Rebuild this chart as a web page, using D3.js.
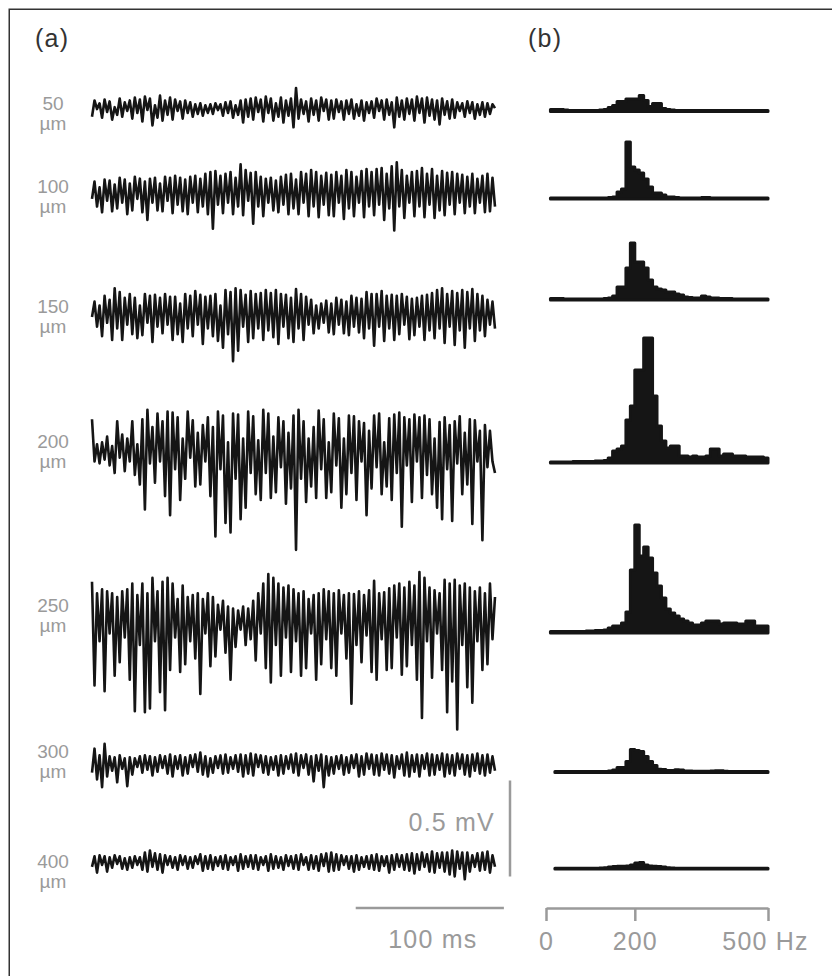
<!DOCTYPE html>
<html>
<head>
<meta charset="utf-8">
<script src="https://cdnjs.cloudflare.com/ajax/libs/d3/7.8.5/d3.min.js"></script>
<style>
	body { margin: 0; background: #fff; }
	text { font-family: "Liberation Sans", Arial, sans-serif; }
</style>
</head>
<body>
<svg id="chart"></svg>
<script>
// recording depths (um)
var depths = ["50", "100", "150", "200", "250", "300", "400"]

// LFP traces, uV, successive extrema, ~272 ms long
var trace50 = [-30, 55, 10, 40, -35, 60, -5, 50, -45, 20, -20, 65, -30, 45, 0, 55,
	-40, 70, -10, 60, -55, 75, 5, 65, -75, 30, -35, 80, -50, 55, -20, 70,
	-45, 60, 0, 50, -40, 55, -10, 45, -30, 35, -15, 40, -25, 30, -10, 35,
	-15, 40, 5, 35, -25, 45, -10, 50, -35, 30, -20, 55, -60, 60, -30, 65,
	-45, 70, -5, 60, -55, 75, -10, 65, -50, 40, -30, 70, -60, 55, -25, 65,
	-85, 120, -40, 60, -15, 50, -55, 65, -20, 55, -50, 70, 0, 60, -45, 55,
	-40, 60, -5, 50, -45, 55, -15, 60, -40, 35, -25, 55, -50, 45, -10, 50,
	-35, 65, 0, 55, -45, 60, -20, 45, -85, 70, -30, 55, -45, 65, -15, 60,
	-50, 75, -10, 65, -60, 70, -25, 60, -45, 55, -70, 65, -20, 50, -40, 60,
	-35, 45, 0, 40, -30, 50, -10, 45, -40, 35, -20, 45, -30, 40, -15, 35, 15]

var trace100 = [-20, 70, -60, 40, -90, 80, -30, 75, -85, 55, -70, 90, -40, 80, -100, 60,
	-80, 95, -20, 85, -90, 70, -130, 85, -40, 90, -80, 60, -85, 95, -30, 90,
	-95, 100, -50, 90, -85, 80, -100, 95, -40, 100, -90, 85, -60, 110, -100, 120,
	-175, 125, -50, 100, -95, 110, -40, 120, -100, 90, -60, 160, -105, 130, -30, 115,
	-150, 120, -60, 95, -110, 85, -40, 90, -80, 75, -90, 95, -50, 105, -100, 110,
	-70, 80, -100, 120, -40, 110, -110, 130, -60, 120, -115, 100, -50, 115, -105, 105,
	-110, 120, -40, 100, -125, 130, -70, 120, -110, 95, -40, 125, -115, 135, -60, 120,
	-105, 135, -50, 140, -130, 110, -70, 150, -185, 170, -60, 130, -120, 100, -40, 120,
	-110, 125, -60, 140, -115, 110, -50, 135, -120, 100, -80, 125, -105, 115, -50, 120,
	-100, 110, -40, 105, -95, 95, -60, 110, -95, 85, -40, 100, -90, 110, -85, 90, -60]

var trace150 = [0, 80, -50, 60, -100, 110, -30, 90, -120, 150, -60, 130, -120, 100, -40, 120,
	-90, 100, -110, 60, -95, 120, -30, 110, -130, 115, -50, 100, -85, 120, -40, 105,
	-120, 105, -90, 70, -130, 120, -60, 110, -100, 135, -40, 115, -140, 105, -60, 110,
	-100, 120, -125, 60, -160, 140, -90, 130, -230, 150, -175, 140, -50, 115, -130, 135,
	-110, 120, -60, 125, -120, 140, -70, 125, -105, 140, -140, 120, -50, 115, -110, 100,
	-130, 145, -60, 120, -120, 105, -40, 90, -85, 60, -60, 70, -30, 85, -80, 70,
	-90, 100, -40, 90, -85, 80, -95, 110, -50, 100, -80, 95, -110, 130, -60, 120,
	-150, 120, -50, 135, -125, 110, -60, 115, -120, 110, -90, 120, -40, 105, -115, 95,
	-95, 100, -50, 110, -120, 115, -70, 125, -110, 140, -60, 150, -135, 120, -50, 135,
	-145, 125, -70, 140, -160, 130, -60, 145, -125, 120, -70, 110, -100, 90, -40, 80, -60]

var trace200 = [160, -60, 30, -70, 40, -50, 70, -80, 20, -120, 150, -40, 80, -110, 60, -60,
	150, -130, 30, -180, 160, -310, 210, -70, 120, -170, 190, -60, 150, -240, 200, -340,
	195, -100, 170, -260, 60, -150, 200, -40, 155, -190, 90, -180, 130, -60, 170, -240,
	120, -450, 200, -100, 180, -380, 40, -430, 190, -150, 185, -360, 60, -300, 200, -120,
	175, -230, 50, -260, 210, -120, 190, -250, 70, -220, 170, -90, 150, -280, 90, -200,
	180, -520, 210, -150, 150, -270, 60, -190, 120, -250, 205, -100, 160, -250, 40, -220,
	190, -80, 165, -300, 60, -230, 180, -120, 175, -260, 150, -60, 140, -340, 100, -200,
	180, -90, 190, -230, 40, -190, 165, -260, 185, -120, 195, -400, 170, -80, 160, -270,
	185, -60, 170, -250, 180, -130, 160, -230, 60, -300, 145, -360, 170, -100, 130, -370,
	150, -70, 175, -230, 90, -180, 160, -385, 155, -60, 100, -470, 130, -90, 100, -60, -120]

var trace250 = [210, -330, 150, -100, 170, -360, 160, -60, 150, -280, 130, -210, 160, -80, 170, -300,
	200, -465, 140, -120, 200, -470, 150, -450, 230, -100, 160, -365, 210, -460, 230, -250,
	200, -80, 120, -260, 190, -220, 130, -100, 140, -190, 150, -375, 120, -60, 150, -230,
	130, -180, 90, -40, 110, -160, 80, -300, 70, -130, 60, -40, 80, -120, 70, -90,
	110, -200, 150, -60, 200, -240, 250, -315, 230, -120, 200, -280, 180, -80, 190, -260,
	170, -100, 150, -280, 160, -240, 120, -60, 140, -300, 150, -220, 170, -90, 160, -240,
	150, -280, 165, -60, 140, -190, 150, -425, 145, -120, 160, -210, 140, -70, 165, -260,
	215, -300, 150, -90, 155, -250, 175, -240, 190, -80, 200, -275, 180, -230, 210, -120,
	190, -300, 260, -500, 230, -100, 180, -290, 165, -60, 150, -250, 220, -470, 200, -310,
	220, -560, 190, -120, 200, -340, 180, -420, 160, -100, 180, -250, 150, -220, 200, -90, 130]

var trace300 = [-40, 85, -75, 50, -115, 110, -60, 45, -30, 40, -90, 50, -20, 35, -110, 40,
	-50, 35, -10, 45, -40, 50, -25, 45, -55, 40, -35, 50, -15, 45, -45, 55,
	-60, 45, -20, 50, -55, 40, -45, 50, -10, 55, -35, 65, -50, 45, -60, 35,
	-40, 45, -15, 50, -45, 55, -40, 40, -20, 50, -35, 55, -60, 50, -45, 60,
	-55, 55, -10, 50, -40, 45, -50, 40, -25, 45, -55, 50, -45, 45, -20, 55,
	-40, 60, -55, 50, -15, 55, -50, 45, -85, 50, -30, 55, -115, 45, -55, 40,
	-45, 45, -20, 50, -50, 40, -40, 50, -15, 55, -60, 45, -50, 60, -20, 55,
	-50, 50, -55, 60, -25, 55, -45, 50, -65, 45, -20, 55, -55, 65, -60, 50,
	-35, 55, -60, 50, -20, 60, -55, 55, -50, 50, -25, 60, -60, 55, -45, 50,
	-55, 60, -20, 55, -50, 50, -60, 55, -30, 60, -45, 50, -55, 55, -40, 45, -30]

var trace400 = [-20, 35, -50, 40, -10, 35, -45, 30, -25, 40, -5, 35, -30, 25, -35, 30,
	-25, 35, -10, 30, -35, 55, -45, 65, -20, 50, -35, 45, -50, 40, -10, 35,
	-25, 30, -35, 40, -10, 35, -30, 30, -25, 35, -5, 45, -40, 35, -30, 40,
	-35, 30, -15, 35, -30, 40, -35, 30, -10, 35, -40, 45, -30, 35, -20, 40,
	-30, 40, -35, 30, -10, 35, -40, 45, -30, 35, -25, 30, -35, 40, -15, 35,
	-30, 40, -35, 45, -10, 30, -35, 40, -30, 35, -40, 45, -15, 50, -45, 55,
	-40, 45, -35, 40, -10, 35, -30, 35, -45, 40, -35, 30, -20, 35, -30, 40,
	-35, 45, -40, 35, -15, 35, -50, 40, -35, 45, -20, 40, -35, 45, -40, 50,
	-55, 45, -35, 55, -20, 45, -45, 60, -50, 50, -25, 55, -45, 55, -60, 65,
	-70, 60, -30, 55, -85, 55, -45, 40, -20, 50, -40, 55, -35, 60, -50, 40, -20]

// power spectra, panel (b): edges of 10 Hz bins (Hz) and power per bin (a.u.)
var freqEdges = [10, 20, 30, 40, 50, 60, 70, 80, 90, 100,
	110, 120, 130, 140, 150, 160, 170, 180, 190, 200,
	210, 220, 230, 240, 250, 260, 270, 280, 290, 300,
	310, 320, 330, 340, 350, 360, 370, 380, 390, 400,
	410, 420, 430, 440, 450, 460, 470, 480, 490, 500]

var spec50 = [2, 2, 2, 1.5, 1, 1, 1, 1, 1, 1,
	1, 1.5, 2, 4, 6, 10, 10, 12.5, 12.5, 12.5,
	16, 11, 5, 8, 8, 3, 2, 1.5, 1, 1,
	1, 1, 1, 1, 1, 1, 1, 1, 1, 1,
	1, 1, 1, 1, 1, 1, 1, 1, 1]
var spec100 = [1, 1, 1, 1, 1, 1, 1, 1, 1, 1,
	1, 1, 1, 1.5, 2, 7, 10, 57, 32, 29,
	26, 20, 12, 6, 6, 4, 2, 2, 1.5, 1,
	1, 1, 1, 1, 1.5, 1.5, 1, 1, 1, 1,
	1, 1, 1, 1, 1, 1, 1, 1, 1]
var spec150 = [1.5, 1.5, 1.5, 1, 1, 1, 1, 1, 1, 1,
	1, 1, 1.5, 2, 4, 13, 13, 32, 57, 38,
	38, 32, 20, 13, 11, 10, 8, 8, 6, 5,
	3, 2.5, 2, 2, 4, 3, 2, 2, 1.5, 1.5,
	1.5, 1, 1, 1, 1, 1, 1, 1, 1]
var spec200 = [1, 1, 1, 1, 1, 1.5, 1.5, 1.5, 1.5, 1.5,
	2, 2, 2.5, 5, 12, 14, 17, 43, 57, 93,
	93, 125, 125, 67, 37, 22, 15, 17, 17, 7,
	7, 6, 7, 6, 6, 7, 14, 14, 7, 9,
	9, 7, 7, 7, 6, 6, 6, 6, 5]
var spec250 = [1.5, 1.5, 1.5, 1.5, 1.5, 1.5, 1.5, 1.5, 2, 2,
	2.5, 2.5, 3, 5, 7, 7, 10, 21, 63, 108,
	77, 86, 75, 60, 47, 35, 24, 20, 17, 14,
	12, 10, 8, 8, 10, 12, 12, 12, 9, 10,
	10, 10, 9, 9, 12, 12, 7, 7, 7]
var spec300 = [null, 1, 1, 1, 1, 1, 1, 1, 1, 1,
	1, 1, 1, 1.5, 2.5, 5, 5, 11, 23, 22,
	21, 16, 11, 7, 3.3, 3, 2, 2, 2.7, 2.5,
	1.5, 1.5, 1.2, 1.2, 1.2, 1.2, 1.5, 1.7, 1.7, 1.2,
	1, 1, 1, 1, 1, 1, 1, 1, 1]
var spec400 = [null, 0.7, 0.7, 0.7, 0.7, 0.7, 0.7, 0.7, 0.7, 0.7,
	0.8, 1, 1.3, 2, 2.5, 2.7, 2.7, 3, 4, 6,
	6.5, 4, 3, 2.7, 2.5, 2, 1.3, 1, 0.8, 0.8,
	0.8, 0.8, 0.8, 0.8, 0.8, 0.8, 0.8, 0.8, 0.8, 0.8,
	0.8, 0.8, 0.8, 0.8, 0.8, 0.8, 0.8, 0.8, 0.8]

var hzTicks = [0, 200, 500]

var traces = [trace50, trace100, trace150, trace200, trace250, trace300, trace400]
var spectra = [spec50, spec100, spec150, spec200, spec250, spec300, spec400]

buildFigure()

function buildFigure() {
	var dim = { width: 832, height: 976 }
	var grey = '#9a9a9a'
	var ink = '#151515'

	// vertical placement of each row
	var rows = {
		traceMid: [111, 195, 317, 450, 622, 765, 863],
		specBase: [111.5, 199, 300, 463, 633, 772.5, 869],
		labelBase: [110, 193, 313, 448, 612, 758, 868]
	}

	var svg = d3.select('#chart')
		.attr('width', dim.width)
		.attr('height', dim.height)

	// frame (only the left and top edge show in the picture)
	svg.append('rect')
		.attr('x', 9.25).attr('y', 9.25)
		.attr('width', 900).attr('height', 1000)
		.attr('fill', 'none')
		.attr('stroke', '#333')
		.attr('stroke-width', 1.5)

	svg.append('text').attr('x', 35).attr('y', 47).text('(a)')
		.attr('font-size', 25).attr('fill', '#333').attr('letter-spacing', 1.2)
	svg.append('text').attr('x', 528).attr('y', 47).text('(b)')
		.attr('font-size', 25).attr('fill', '#333').attr('letter-spacing', 1.2)

	// ---- panel (a): traces ----
	var tEnd = 272
	var t = d3.scaleLinear().domain([0, tEnd]).range([92, 495])
	var pxPerMV = 192

	traces.forEach((tr, i) => {
		var y = d3.scaleLinear()
			.domain([-1000, 1000])
			.range([rows.traceMid[i] + pxPerMV, rows.traceMid[i] - pxPerMV])
		var step = tEnd / (tr.length - 1)
		var line = d3.line()
			.x((d, j) => t(j * step))
			.y(d => y(d))
		svg.append('path')
			.datum(tr)
			.attr('d', line)
			.attr('fill', 'none')
			.attr('stroke', ink)
			.attr('stroke-width', 2.6)
			.attr('stroke-linejoin', 'round')
	})

	// depth labels
	var labels = svg.append('g')
		.attr('fill', grey)
		.attr('font-size', 19)
		.attr('text-anchor', 'middle')
	depths.forEach((d, i) => {
		labels.append('text').attr('x', 53).attr('y', rows.labelBase[i]).text(d)
		labels.append('text').attr('x', 53).attr('y', rows.labelBase[i] + 20).text('\u00b5m')
	})

	// scale bars
	svg.append('line')
		.attr('x1', t(178)).attr('x2', t(278))
		.attr('y1', 908).attr('y2', 908)
		.attr('stroke', grey).attr('stroke-width', 2.5)
	svg.append('text')
		.attr('x', t(178 + 50) + 3).attr('y', 948)
		.attr('text-anchor', 'middle')
		.attr('font-size', 25).attr('letter-spacing', 1.2)
		.attr('fill', grey)
		.text('100 ms')

	var barBottom = 876.5
	svg.append('line')
		.attr('x1', 510).attr('x2', 510)
		.attr('y1', barBottom).attr('y2', barBottom - 0.5 * pxPerMV)
		.attr('stroke', grey).attr('stroke-width', 2.5)
	svg.append('text')
		.attr('x', 495).attr('y', 831)
		.attr('text-anchor', 'end')
		.attr('font-size', 25).attr('letter-spacing', 1.2)
		.attr('fill', grey)
		.text('0.5 mV')

	// ---- panel (b): spectra ----
	var f = d3.scaleLinear().domain([0, 500]).range([546, 768])
	var p = d3.scaleLinear().domain([0, 125]).range([0, 125])

	spectra.forEach((sp, i) => {
		var base = rows.specBase[i]
		var pts = freqEdges.map((fr, j) => ({ f: fr, v: j < sp.length ? sp[j] : sp[sp.length - 1] }))
		var area = d3.area()
			.defined(d => d.v != null)
			.curve(d3.curveStepAfter)
			.x(d => f(d.f))
			.y0(base)
			.y1(d => base - p(d.v))
		svg.append('path')
			.datum(pts)
			.attr('d', area)
			.attr('fill', ink)
			.attr('stroke', ink)
			.attr('stroke-width', 3)
			.attr('stroke-linejoin', 'round')
	})

	var axis = svg.append('g')
		.attr('transform', 'translate(0,908)')
		.call(d3.axisBottom(f)
			.tickValues(hzTicks)
			.tickSize(13)
			.tickSizeOuter(0)
			.tickPadding(11)
			.tickFormat(d => d === 500 ? '500 Hz' : d))
	axis.select('.domain').attr('stroke', grey).attr('stroke-width', 2.5)
	axis.selectAll('.tick line').attr('stroke', grey).attr('stroke-width', 2.5)
	axis.selectAll('.tick text')
		.attr('fill', grey)
		.attr('font-size', 25)
		.attr('letter-spacing', 1.2)
		.attr('font-family', '"Liberation Sans", Arial, sans-serif')
		.attr('dx', d => d === 500 ? -3 : 0)
}
</script>
</body>
</html>
